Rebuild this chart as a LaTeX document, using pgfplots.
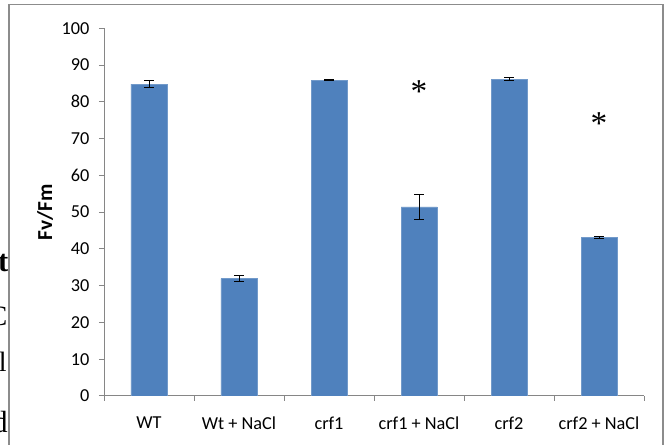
\documentclass[border=0pt]{standalone}
\usepackage{pgfplots}
\usepackage{pgfplotstable}
\pgfplotsset{compat=1.18}
\usepackage{fontspec}
\setmainfont{Carlito}
\newfontfamily\serif{Liberation Serif}
\definecolor{barblue}{HTML}{4F81BD}
\definecolor{axisgray}{HTML}{868686}
\definecolor{framegray}{HTML}{8C8C8C}

% mean Fv/Fm and standard error per line / treatment
\pgfplotstableread{
x val err
0 84.8 1.0
1 31.9 0.9
2 85.9 0.2
3 51.4 3.5
4 86.1 0.4
5 43.1 0.4
}\fvfm

\begin{document}
\begin{tikzpicture}[x=0.75pt,y=0.75pt]
\path[use as bounding box] (0,0) rectangle (666,445);
% page text running under the figure frame
\node[anchor=base east, inner sep=0pt, font=\serif\bfseries\fontsize{23}{26}\selectfont] at (8.5,173) {nt};
\node[anchor=base east, inner sep=0pt, font=\serif\fontsize{21}{24}\selectfont] at (7.5,119) {C};
\node[anchor=base east, inner sep=0pt, font=\serif\fontsize{21}{24}\selectfont] at (7,73) {l};
\node[anchor=base east, inner sep=0pt, font=\serif\fontsize{23}{26}\selectfont] at (8,12) {d};
% chart frame
\draw[framegray, line width=1.2pt, fill=white] (9,-10) -- (9,440.5) -- (663,440.5) -- (663,-10);
\begin{axis}[
  at={(78pt,36.75pt)}, anchor=south west,
  scale only axis, width=405pt, height=275.8pt,
  xmin=-0.5, xmax=5.5, ymin=0, ymax=100,
  axis x line*=bottom, axis y line*=left,
  axis line style={axisgray, line width=0.75pt, -},
  ytick={0,10,...,100},
  xtick={-0.5,0.5,...,5.5},
  x tick label as interval,
  xticklabels={WT, Wt + NaCl, crf1, crf1 + NaCl, crf2, crf2 + NaCl},
  tick align=outside, major tick length=3.75pt,
  tick style={axisgray, line width=0.75pt},
  tick label style={font=\fontsize{13.7}{16}\selectfont},
  xticklabel style={yshift=-8.5pt},
  yticklabel style={xshift=-3.75pt},
  /pgf/number format/assume math mode=true,
  ylabel={Fv/Fm},
  ylabel style={font=\bfseries\fontsize{16}{18}\selectfont,
    at={(axis description cs:-0.109,0.5)}, anchor=center},
]
\addplot[ybar, bar width=27pt, fill=barblue, draw=barblue!80!white,
  error bars/.cd, y dir=both, y explicit,
  error bar style={black, line width=0.75pt},
  error mark options={rotate=90, black, mark size=3.4pt, line width=0.75pt}]
  table[x=x, y=val, y error=err] {\fvfm};
\node[font=\serif\fontsize{25}{28}\selectfont] at (axis cs:3,82.9) {*};
\node[font=\serif\fontsize{25}{28}\selectfont] at (axis cs:5,74.1) {*};
\end{axis}
\end{tikzpicture}
\end{document}
